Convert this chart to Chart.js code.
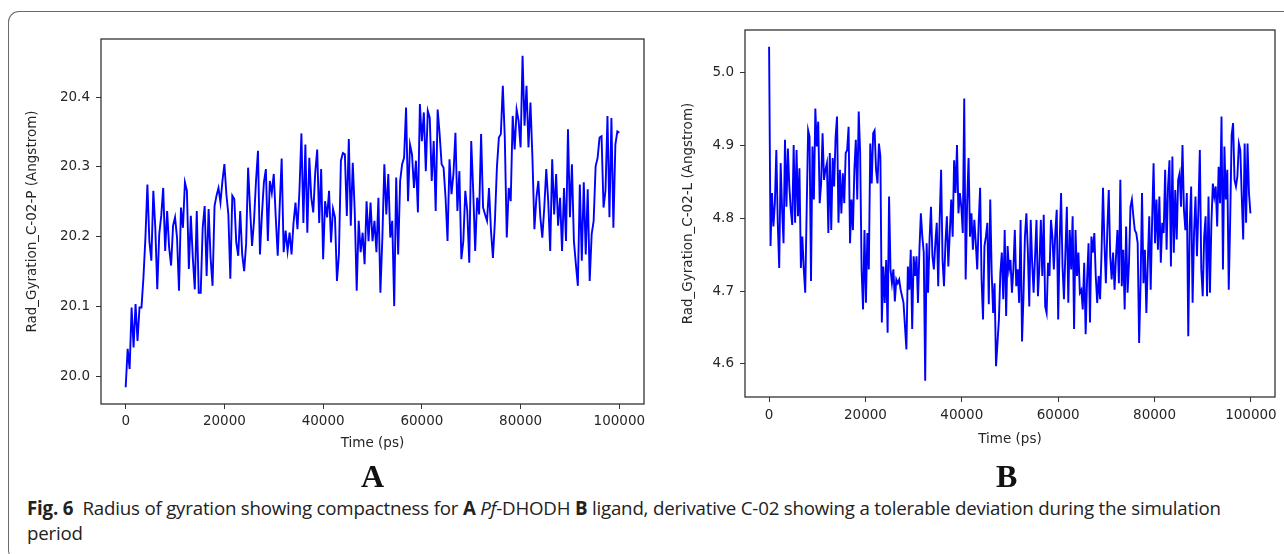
<!DOCTYPE html>
<html>
<head>
<meta charset="utf-8">
<script src="https://cdn.jsdelivr.net/npm/chart.js@4.4.1/dist/chart.umd.min.js"></script>
<style>
  body { margin: 0; background: #fff; width: 1284px; height: 554px; overflow: hidden; position: relative; }
  .frame { position: absolute; left: 8px; top: 11px; width: 1300px; height: 548px; border: 1.5px solid #6a6a6a; border-right: none; border-radius: 11px 0 0 11px; }
  #chartA { position: absolute; left: 0; top: 0; }
  #chartB { position: absolute; left: 650px; top: 0; }
  .panel-tag { position: absolute; top: 458px; font-family: 'Liberation Serif', serif; font-weight: bold; font-size: 32px; color: #111; }
  .caption { position: absolute; left: 27px; top: 495px; width: 1245px; font-family: 'Open Sans', sans-serif; font-size: 18.7px; line-height: 25px; color: #222; letter-spacing: -0.2px; }
</style>
</head>
<body>
<div class="frame"></div>
<canvas id="chartA" width="660" height="460"></canvas>
<canvas id="chartB" width="634" height="460"></canvas>
<div class="panel-tag" style="left:361px">A</div>
<div class="panel-tag" style="left:996px">B</div>
<div class="caption"><b>Fig. 6</b>&nbsp; Radius of gyration showing compactness for <b>A</b> <i>Pf</i>-DHODH <b>B</b> ligand, derivative C-02 showing a tolerable deviation during the simulation period</div>

<script>
// frame spacing of the two trajectories (ps)
const stepProtein = 400;
const stepLigand = 300;

// Rad_Gyration_C-02-P
const rgProtein = [
  19.985, 20.040, 20.011, 20.099, 20.042, 20.104, 20.051, 20.099, 20.099, 20.142,
  20.199, 20.275, 20.194, 20.166, 20.266, 20.213, 20.125, 20.204, 20.230, 20.270,
  20.180, 20.237, 20.185, 20.159, 20.216, 20.228, 20.199, 20.123, 20.242, 20.213,
  20.278, 20.266, 20.154, 20.230, 20.170, 20.125, 20.237, 20.120, 20.120, 20.213,
  20.244, 20.144, 20.240, 20.170, 20.130, 20.244, 20.259, 20.270, 20.249, 20.280,
  20.304, 20.261, 20.232, 20.140, 20.259, 20.254, 20.192, 20.173, 20.237, 20.175,
  20.151, 20.190, 20.299, 20.240, 20.187, 20.223, 20.280, 20.323, 20.175, 20.232,
  20.278, 20.297, 20.194, 20.280, 20.263, 20.290, 20.228, 20.173, 20.244, 20.312,
  20.178, 20.209, 20.180, 20.206, 20.175, 20.220, 20.249, 20.211, 20.266, 20.348,
  20.220, 20.332, 20.206, 20.313, 20.256, 20.235, 20.292, 20.325, 20.220, 20.297,
  20.168, 20.251, 20.228, 20.266, 20.192, 20.240, 20.228, 20.137, 20.175, 20.309,
  20.320, 20.318, 20.230, 20.340, 20.216, 20.306, 20.237, 20.123, 20.223, 20.178,
  20.206, 20.161, 20.251, 20.194,
  20.249, 20.194, 20.223, 20.178, 20.256, 20.120, 20.199, 20.304, 20.232, 20.290,
  20.199, 20.223, 20.101, 20.285, 20.175, 20.280, 20.304, 20.313, 20.385, 20.251,
  20.332, 20.318, 20.270, 20.309, 20.235, 20.390, 20.337, 20.378, 20.294, 20.380,
  20.370, 20.280, 20.337, 20.237, 20.382, 20.347, 20.304, 20.299, 20.256, 20.194,
  20.311, 20.261, 20.290, 20.349, 20.237, 20.294, 20.168, 20.194, 20.266, 20.237,
  20.163, 20.337, 20.266, 20.180, 20.256, 20.232, 20.347, 20.242, 20.232, 20.223,
  20.270, 20.209, 20.170, 20.223, 20.299, 20.342, 20.347, 20.416, 20.342, 20.199,
  20.270, 20.251, 20.373, 20.325, 20.382, 20.366, 20.328, 20.459, 20.359, 20.416,
  20.328, 20.392, 20.313, 20.211, 20.256, 20.280, 20.228, 20.199, 20.242, 20.297,
  20.251, 20.180, 20.311, 20.232, 20.290, 20.216, 20.256, 20.180, 20.270, 20.194,
  20.354, 20.228, 20.304, 20.194, 20.161, 20.130, 20.275, 20.166, 20.278, 20.175,
  20.268, 20.137, 20.204, 20.223, 20.301, 20.313, 20.342, 20.344, 20.242, 20.266,
  20.373, 20.228, 20.370, 20.213, 20.332, 20.351, 20.349
];

// Rad_Gyration_C-02-L
const rgLigand = [
  5.036, 4.762, 4.835, 4.789, 4.821, 4.894, 4.794, 4.732, 4.876, 4.812,
  4.766, 4.908, 4.816, 4.896, 4.844, 4.812, 4.791, 4.901, 4.794, 4.894,
  4.803, 4.869, 4.732, 4.775, 4.730, 4.698, 4.812, 4.921, 4.912, 4.714,
  4.899, 4.826, 4.951, 4.899, 4.933, 4.821, 4.848, 4.917, 4.853, 4.867,
  4.876, 4.780, 4.890, 4.784, 4.883, 4.844, 4.912, 4.940, 4.794, 4.867,
  4.807, 4.862, 4.821, 4.890, 4.894, 4.926, 4.766, 4.826, 4.784, 4.867,
  4.908, 4.826, 4.947, 4.890, 4.730, 4.675, 4.784, 4.684, 4.780, 4.730,
  4.903, 4.848, 4.917, 4.921, 4.867, 4.848, 4.903, 4.885, 4.657, 4.734,
  4.684, 4.743, 4.643, 4.830, 4.730, 4.711, 4.730, 4.686, 4.716, 4.711,
  4.716, 4.702, 4.693, 4.684, 4.652, 4.620, 4.734, 4.702, 4.757, 4.648,
  4.748, 4.721, 4.748, 4.684, 4.757, 4.807, 4.775, 4.753, 4.577, 4.766,
  4.698, 4.771, 4.816, 4.748, 4.730, 4.766, 4.794, 4.707, 4.798, 4.867,
  4.743, 4.707, 4.766, 4.803, 4.734, 4.780, 4.826, 4.775, 4.880, 4.835,
  4.901, 4.807, 4.835, 4.816, 4.780, 4.965, 4.716, 4.821, 4.883, 4.775,
  4.807, 4.757, 4.798, 4.766, 4.730, 4.794, 4.842, 4.716, 4.661, 4.762,
  4.775, 4.794, 4.682, 4.826, 4.725, 4.670, 4.711, 4.597, 4.629, 4.661,
  4.725, 4.753, 4.689, 4.784, 4.666, 4.762, 4.730,
  4.743, 4.698, 4.730, 4.784, 4.707, 4.730, 4.684, 4.798, 4.631, 4.693,
  4.775, 4.807, 4.757, 4.679, 4.798, 4.739, 4.698, 4.748, 4.798, 4.693,
  4.734, 4.798, 4.721, 4.805, 4.679, 4.670, 4.739, 4.721, 4.798, 4.775,
  4.730, 4.780, 4.812, 4.661, 4.766, 4.835, 4.734, 4.689, 4.753, 4.816,
  4.684, 4.784, 4.730, 4.803, 4.648, 4.784, 4.721, 4.753, 4.698, 4.702,
  4.675, 4.739, 4.641, 4.716, 4.766, 4.657, 4.775, 4.753, 4.780, 4.721,
  4.684, 4.721, 4.689, 4.753, 4.842, 4.766, 4.711, 4.784, 4.839, 4.748,
  4.716, 4.753, 4.702, 4.748, 4.784, 4.711, 4.853, 4.707, 4.757, 4.675,
  4.789, 4.698, 4.739, 4.816, 4.826, 4.803, 4.784, 4.780, 4.766, 4.629,
  4.711, 4.835, 4.711, 4.757, 4.670, 4.739, 4.803, 4.702, 4.798, 4.876,
  4.766, 4.826, 4.757, 4.830, 4.739, 4.794, 4.780, 4.867, 4.757, 4.844,
  4.880, 4.734, 4.885, 4.753, 4.839, 4.771, 4.853, 4.862, 4.816, 4.901,
  4.812, 4.784, 4.835, 4.638, 4.789, 4.844, 4.684, 4.780, 4.830, 4.748,
  4.812, 4.894, 4.730, 4.693, 4.775, 4.803, 4.693, 4.830, 4.698, 4.794,
  4.848, 4.830, 4.844, 4.789, 4.871, 4.821, 4.940, 4.730, 4.899, 4.826,
  4.867, 4.702, 4.798, 4.915, 4.931, 4.853, 4.844, 4.858, 4.903, 4.894,
  4.830, 4.771, 4.903, 4.794, 4.903, 4.835, 4.807
];

const timeTicks = [0, 20000, 40000, 60000, 80000, 100000];
const yTicksProtein = [20.0, 20.1, 20.2, 20.3, 20.4];
const yTicksLigand = [4.6, 4.7, 4.8, 4.9, 5.0];

const inkColor = '#262626';
const tickFont = { family: 'DejaVu Sans', size: 13.5 };
const titleFont = { family: 'DejaVu Sans', size: 13.5 };

// matplotlib-style box around the plot area
const boxPlugin = {
  id: 'box',
  afterDatasetsDraw(chart) {
    const { ctx, chartArea: a } = chart;
    ctx.save();
    ctx.strokeStyle = '#333';
    ctx.lineWidth = 1.3;
    ctx.strokeRect(a.left, a.top, a.right - a.left, a.bottom - a.top);
    ctx.restore();
  }
};

function makePanel(id, values, step, yRange, yTicks, yTitle, g) {
  const points = values.map((v, i) => ({ x: i * step, y: v }));
  return new Chart(document.getElementById(id), {
    type: 'line',
    data: {
      datasets: [{
        data: points,
        borderColor: '#0000ff',
        borderWidth: 1.9,
        pointRadius: 0,
        tension: 0,
        fill: false
      }]
    },
    options: {
      responsive: false,
      animation: false,
      devicePixelRatio: 1,
      layout: { padding: { top: g.top, right: g.right, left: 0, bottom: 0 } },
      plugins: { legend: { display: false }, tooltip: { enabled: false } },
      scales: {
        x: {
          type: 'linear',
          min: -5000,
          max: 105000,
          afterBuildTicks: s => { s.ticks = timeTicks.map(v => ({ value: v })); },
          afterFit: s => { s.height = g.xAxisH; },
          border: { display: false },
          grid: { drawOnChartArea: false, drawTicks: true, tickLength: 5, color: '#333' },
          ticks: { color: inkColor, font: tickFont, padding: g.xTickPad, maxRotation: 0, callback: v => String(v) },
          title: { display: true, text: 'Time (ps)', color: inkColor, font: titleFont, padding: { top: 0, bottom: g.xTitlePad } }
        },
        y: {
          min: yRange[0],
          max: yRange[1],
          afterBuildTicks: s => { s.ticks = yTicks.map(v => ({ value: v })); },
          afterFit: s => { s.width = g.yAxisW; },
          border: { display: false },
          grid: { drawOnChartArea: false, drawTicks: true, tickLength: 5, color: '#333' },
          ticks: { color: inkColor, font: tickFont, padding: 6, callback: v => Number(v).toFixed(1) },
          title: { display: true, text: yTitle, color: inkColor, font: titleFont, padding: { top: g.yTitlePad, bottom: 0 } }
        }
      }
    },
    plugins: [boxPlugin]
  });
}

makePanel('chartA', rgProtein, stepProtein, [19.961, 20.483], yTicksProtein,
  'Rad_Gyration_C-02-P (Angstrom)',
  { top: 39, right: 16, xAxisH: 56, yAxisW: 101, xTickPad: 4, xTitlePad: 8, yTitlePad: 24 });

makePanel('chartB', rgLigand, stepLigand, [4.5546, 5.059], yTicksLigand,
  'Rad_Gyration_C-02-L (Angstrom)',
  { top: 30, right: 9, xAxisH: 63, yAxisW: 95, xTickPad: 5, xTitlePad: 12, yTitlePad: 30 });
</script>
</body>
</html>
